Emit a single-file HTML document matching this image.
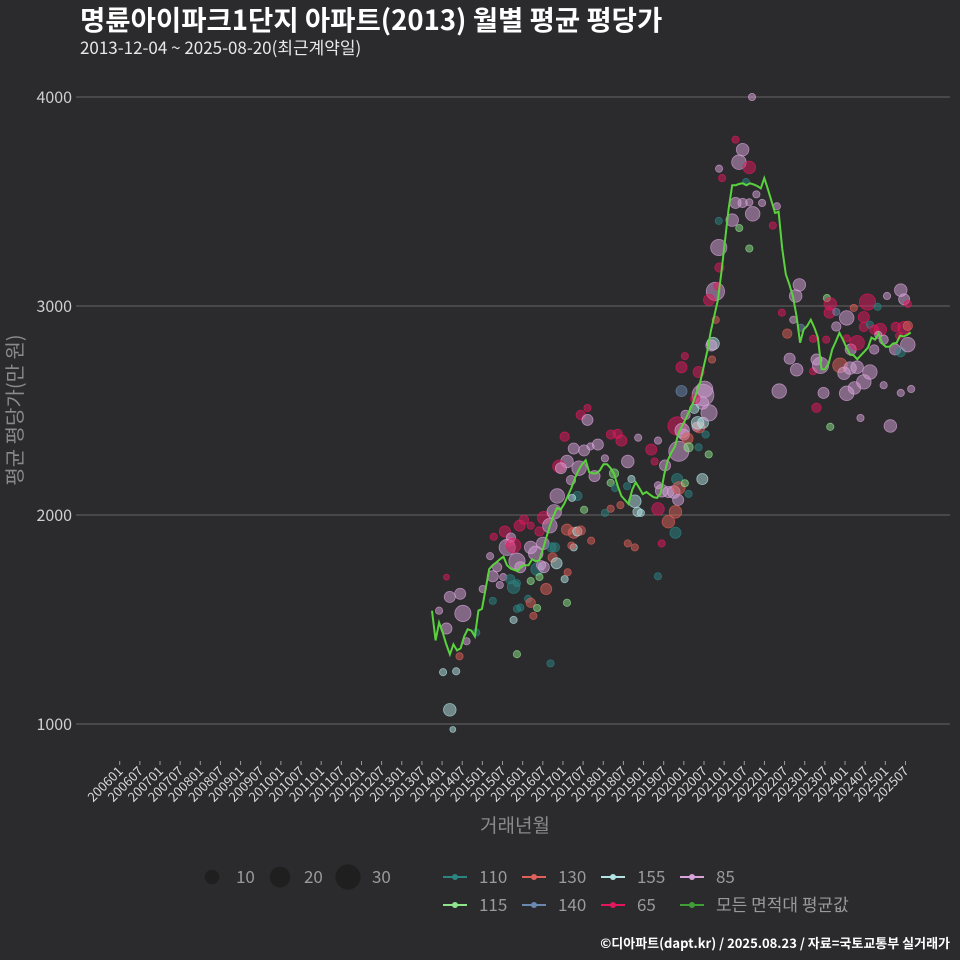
<!DOCTYPE html>
<html><head><meta charset="utf-8">
<style>
html,body{margin:0;padding:0;background:#2b2b2d;}
svg{display:block;font-family:"Noto Sans CJK KR","Liberation Sans",sans-serif;}
</style></head>
<body>
<svg id="chart" width="960" height="960" viewBox="0 0 960 960" xmlns="http://www.w3.org/2000/svg">
<rect width="960" height="960" fill="#2b2b2d"/>
<text x="80" y="30" fill="#ffffff" font-size="27.5" font-weight="bold">명륜아이파크1단지 아파트(2013) 월별 평균 평당가</text>
<text x="80" y="54" fill="#e8e8e8" font-size="17">2013-12-04 ~ 2025-08-20(최근계약일)</text>
<g id="grid"></g>
<g id="xaxis"></g>
<g id="points"></g>
<path id="avgline" fill="none" stroke="#5ad23e" stroke-width="2"/>
<text x="0" y="0" transform="translate(22,410) rotate(-90)" text-anchor="middle" fill="#8a8a8a" font-size="20" font-family="Noto Sans CJK KR, sans-serif">평균 평당가(만 원)</text>
<text x="515" y="832" text-anchor="middle" fill="#8a8a8a" font-size="19">거래년월</text>
<g id="legend"></g>
<text x="950" y="948" text-anchor="end" fill="#ffffff" font-size="13" font-weight="bold">©디아파트(dapt.kr) / 2025.08.23 / 자료=국토교통부 실거래가</text>
</svg>
<script>
const yTicks=[1000,2000,3000,4000];
const xTickLabels=[];
for(let y=2006;y<=2025;y++){xTickLabels.push(y+'01');xTickLabels.push(y+'07');}
const lineStartMonth=93, lineEndMonth=235.6;
const avgValues=[1542,1400,1485,1438,1381,1333,1381,1352,1362,1419,1453,1447,1419,1542,1551,1646,1741,1760,1773,1788,1801,1760,1744,1737,1731,1756,1760,1760,1788,1779,1782,1835,1892,1949,1996,2034,2025,2053,2091,2129,2176,2214,2243,2262,2205,2199,2199,2214,2243,2243,2224,2195,2138,2091,2072,2053,2119,2157,2129,2100,2110,2097,2085,2082,2104,2195,2262,2299,2328,2394,2426,2460,2498,2536,2584,2631,2707,2782,2877,2953,3029,3161,3313,3464,3578,3578,3584,3587,3578,3587,3582,3574,3563,3612,3559,3502,3445,3451,3275,3152,3104,3047,2953,2824,2887,2905,2934,2896,2849,2697,2697,2726,2792,2830,2872,2839,2801,2767,2764,2745,2764,2782,2801,2849,2839,2868,2820,2805,2805,2820,2824,2858,2854,2862,2873];
const ptMonth=[97.3,98.3,101.4,102.2,95.1,97.3,96.3,100.2,98.3,99.2,101.2,103.3,106.2,108.1,110.3,111.1,112.4,111.4,113.2,111.1,114.2,114.7,116.1,116.5,115.4,117.3,117.3,116.3,118.3,119.1,120.4,118.3,119.3,122.4,122.4,123.9,124.3,125.5,126.3,125.0,126.3,126.0,128.1,129.4,130.3,128.6,129.6,128.9,130.1,127.0,125.0,122.4,121.6,122.4,124.3,123.2,118.3,119.3,117.3,118.3,128.3,133.2,132.5,133.4,133.2,135.2,136.3,137.3,135.2,134.5,140.4,138.3,136.3,134.7,134.4,133.2,130.8,131.4,136.8,135.2,138.3,140.2,142.4,137.3,139.3,139.3,132.5,141.4,144.5,146.2,147.2,147.5,146.3,148.3,149.4,151.3,152.4,154.4,151.1,153.4,154.2,155.2,146.2,144.5,149.1,151.3,153.4,160.3,158.3,159.3,162.4,160.3,161.4,163.4,165.0,166.5,166.0,166.5,166.3,165.5,163.4,165.5,160.3,161.4,160.3,169.4,168.3,166.0,167.5,168.0,169.1,169.4,168.5,171.8,172.6,172.1,173.5,173.7,174.2,171.4,172.4,167.3,168.3,167.3,171.1,173.7,175.4,175.5,173.5,172.4,174.5,176.7,176.2,176.4,177.4,175.5,178.0,178.6,177.5,178.4,178.4,184.5,187.5,182.4,188.5,183.4,185.5,187.5,189.6,191.3,195.7,194.5,178.5,179.4,184.4,187.5,185.5,183.4,186.5,188.3,197.2,200.6,202.4,201.3,198.8,199.5,201.6,196.4,202.9,206.5,206.5,208.7,207.5,207.5,209.6,211.6,210.6,211.6,211.4,213.4,210.4,213.4,216.5,216.5,214.5,215.7,217.5,217.7,219.6,219.6,218.6,221.6,222.7,221.6,223.4,225.7,224.7,226.5,227.5,223.4,221.6,218.8,216.5,220.6,224.7,225.9,228.5,232.6,233.6,234.7,231.1,232.1,233.6,234.7,230.9,232.6,234.7,227.5,229.5,232.6,235.7];
const ptValue=[1703,1608,1623,1529,1542,1457,1248,1252,1068,974,1324,1396,1438,1646,1803,1707,1750,1896,1665,1589,1703,1921,1873,1892,1845,1854,1655,1693,1779,1949,1977,1674,1750,1949,1845,1816,1741,1760,1750,1921,1987,1864,1949,2015,2091,1845,1845,1797,1769,1646,1703,1684,1599,1580,1555,1517,1551,1557,1498,1334,1290,1580,1693,1726,1930,1915,1921,1926,1845,1854,1877,2025,2091,2082,2167,2256,2233,2224,2224,2318,2309,2328,2337,2479,2455,2512,2375,2186,2271,2154,2199,2129,2385,2388,2356,2256,2172,2370,2138,2066,2015,2010,2030,2010,2047,1864,1845,2356,2313,2256,2237,2142,2116,2110,2110,2305,2172,2129,2072,2015,1968,1915,2029,1864,1707,2101,2152,2426,2404,2385,2366,2324,2479,2422,2419,2441,2536,2574,2602,2555,2684,2707,2760,2593,2508,2441,2290,2489,2172,2324,2385,2820,2811,2744,3070,3029,3095,3184,2934,3280,3407,3373,3275,3411,3441,3493,3493,3496,3534,3493,3477,3385,3657,3612,3688,3663,3748,3796,3593,4000,2968,2934,3101,3048,2868,2748,2695,2593,2896,2843,2688,2716,2744,2513,2584,2422,3038,3010,2968,2972,2839,2902,2943,2845,2716,2678,2703,2792,2824,2707,2991,2947,3019,2900,2911,2996,2887,2887,2839,2684,2637,2608,2582,2464,2792,2862,3048,3076,3032,3010,2900,2858,2896,2905,2792,2779,2815,2621,2426,2584,2603];
const ptCount=[2,7,7,15,3,7,3,3,9,2,3,3,3,3,3,7,5,3,3,3,3,7,5,5,15,12,9,5,15,7,5,3,7,3,9,12,9,5,7,5,9,9,12,12,12,5,5,5,7,7,3,3,3,5,3,3,3,3,3,3,3,3,3,3,7,7,5,5,3,3,3,3,5,3,5,9,9,7,12,7,7,3,7,5,7,3,5,7,3,3,5,3,5,5,7,9,3,3,3,9,5,3,3,3,3,3,3,3,7,3,7,3,9,7,9,23,7,9,7,9,9,7,9,3,3,3,3,19,12,7,7,5,5,5,7,9,9,27,15,5,7,7,3,7,5,7,3,15,7,3,3,9,7,3,19,7,3,5,3,15,3,3,3,9,12,7,5,3,3,3,3,3,3,3,12,9,9,3,3,3,3,3,9,9,5,7,9,12,3,3,3,15,7,5,7,3,3,9,7,3,3,5,12,3,12,9,9,7,12,9,3,7,15,5,3,3,5,9,5,12,12,9,12,3,5,3,3,9,7,3,5,3,9,5,7,5,12,3,9,3,3];
const ptType=['65','85','85','85','85','85','155','155','155','155','130','85','110','85','85','85','85','65','85','110','85','65','65','85','85','65','110','110','85','65','65','110','85','65','85','85','110','85','85','65','65','85','85','85','85','110','110','130','155','130','115','115','110','130','115','130','110','110','155','115','110','115','155','130','130','130','155','130','155','130','130','115','110','155','85','85','65','85','85','85','85','85','85','65','85','65','65','85','85','115','115','110','65','65','65','85','155','85','110','155','155','155','130','110','130','130','130','85','65','65','85','85','85','85','85','85','110','130','85','130','130','110','65','65','110','110','115','65','85','85','130','115','85','85','130','155','85','85','85','65','65','65','65','140','155','155','115','85','155','110','110','155','85','130','85','65','65','65','130','85','110','115','115','85','85','85','85','85','85','85','85','65','85','65','85','65','85','65','110','85','65','85','85','85','130','85','85','85','140','65','65','85','85','65','85','115','115','65','65','140','65','85','85','65','130','85','85','85','65','85','130','65','65','65','110','110','65','65','85','85','85','85','85','85','85','85','85','85','85','65','65','65','65','130','85','110','85','85','85','85','85','115','85'];
const typeColor={'110':'#2b8583','115':'#8fe58c','130':'#e0605a','140':'#6b88b0','155':'#b3e4e4','65':'#e4175d','85':'#d8a3da'};
const legendKeys=['110','130','155','85','115','140','65','all'];
const legendLabels=['110','130','155','85','115','140','65','모든 면적대 평균값'];
const sizeLegend=[10,20,30];

const NS='http://www.w3.org/2000/svg';
function el(tag,attrs,parent){const e=document.createElementNS(NS,tag);for(const k in attrs)e.setAttribute(k,attrs[k]);parent.appendChild(e);return e;}
const xMonth=m=>119.7+3.358*m;
const yVal=v=>724-(v-1000)*0.209;
const rCount=n=>2.1*Math.sqrt(n);

const grid=document.getElementById('grid');
yTicks.forEach(t=>{
  const l=el('line',{x1:76,x2:950,y1:yVal(t),y2:yVal(t),stroke:'#666',"stroke-width":1},grid);
  
  
  const tx=el('text',{x:72,y:yVal(t)+6,"text-anchor":"end",fill:'#cfcfcf',"font-size":16},grid);
  
  
  tx.textContent=t;
});
const xa=document.getElementById('xaxis');
xTickLabels.forEach((lab,i)=>{
  const x=xMonth(i*6);
  const tk=el('line',{x1:x,x2:x,y1:761,y2:765,stroke:'#999'},xa);
  
  
  const t=el('text',{x:0,y:0,transform:`translate(${x+4},772) rotate(-45)`,"text-anchor":"end",fill:'#d8d8d8',"font-size":13},xa);
  
  
  t.textContent=lab;
});
const pts=document.getElementById('points');
ptMonth.forEach((m,i)=>{
  const c=el('circle',{cx:xMonth(m),cy:yVal(ptValue[i]),r:rCount(ptCount[i]),fill:typeColor[ptType[i]],"fill-opacity":0.5,stroke:typeColor[ptType[i]],"stroke-opacity":0.7,"stroke-width":0.8},pts);
  
  
});
const n=avgValues.length;
let d='';
avgValues.forEach((v,i)=>{
  const m=lineStartMonth+(lineEndMonth-lineStartMonth)*i/(n-1);
  d+=(i?'L':'M')+xMonth(m).toFixed(1)+','+yVal(v).toFixed(1);
});
document.getElementById('avgline').setAttribute('d',d);

const lg=document.getElementById('legend');
sizeLegend.forEach((s,i)=>{
  const cx=212+i*68;
  const c=el('circle',{cx:cx,cy:877,r:2.3*Math.sqrt(s),fill:'#1f1f20'},lg);
  
  
  const t=el('text',{x:cx+24,y:883,fill:'#9a9a9a',"font-size":17},lg);
  
  
  t.textContent=s;
});
legendKeys.forEach((k,i)=>{
  const col=i%4,row=Math.floor(i/4);
  const x=443+col*79,y=877+row*28;
  const color=k==='all'?'#3f9e34':typeColor[k];
  const g=el('g',{},lg);
  
  
  el('line',{x1:x,x2:x+24,y1:y,y2:y,stroke:color,"stroke-width":2},g);
  el('circle',{cx:x+12,cy:y,r:3,fill:color},g);
  const t=el('text',{x:x+36,y:y+6,fill:'#9a9a9a',"font-size":17},g);
  t.textContent=legendLabels[i];
});
</script>
</body></html>
